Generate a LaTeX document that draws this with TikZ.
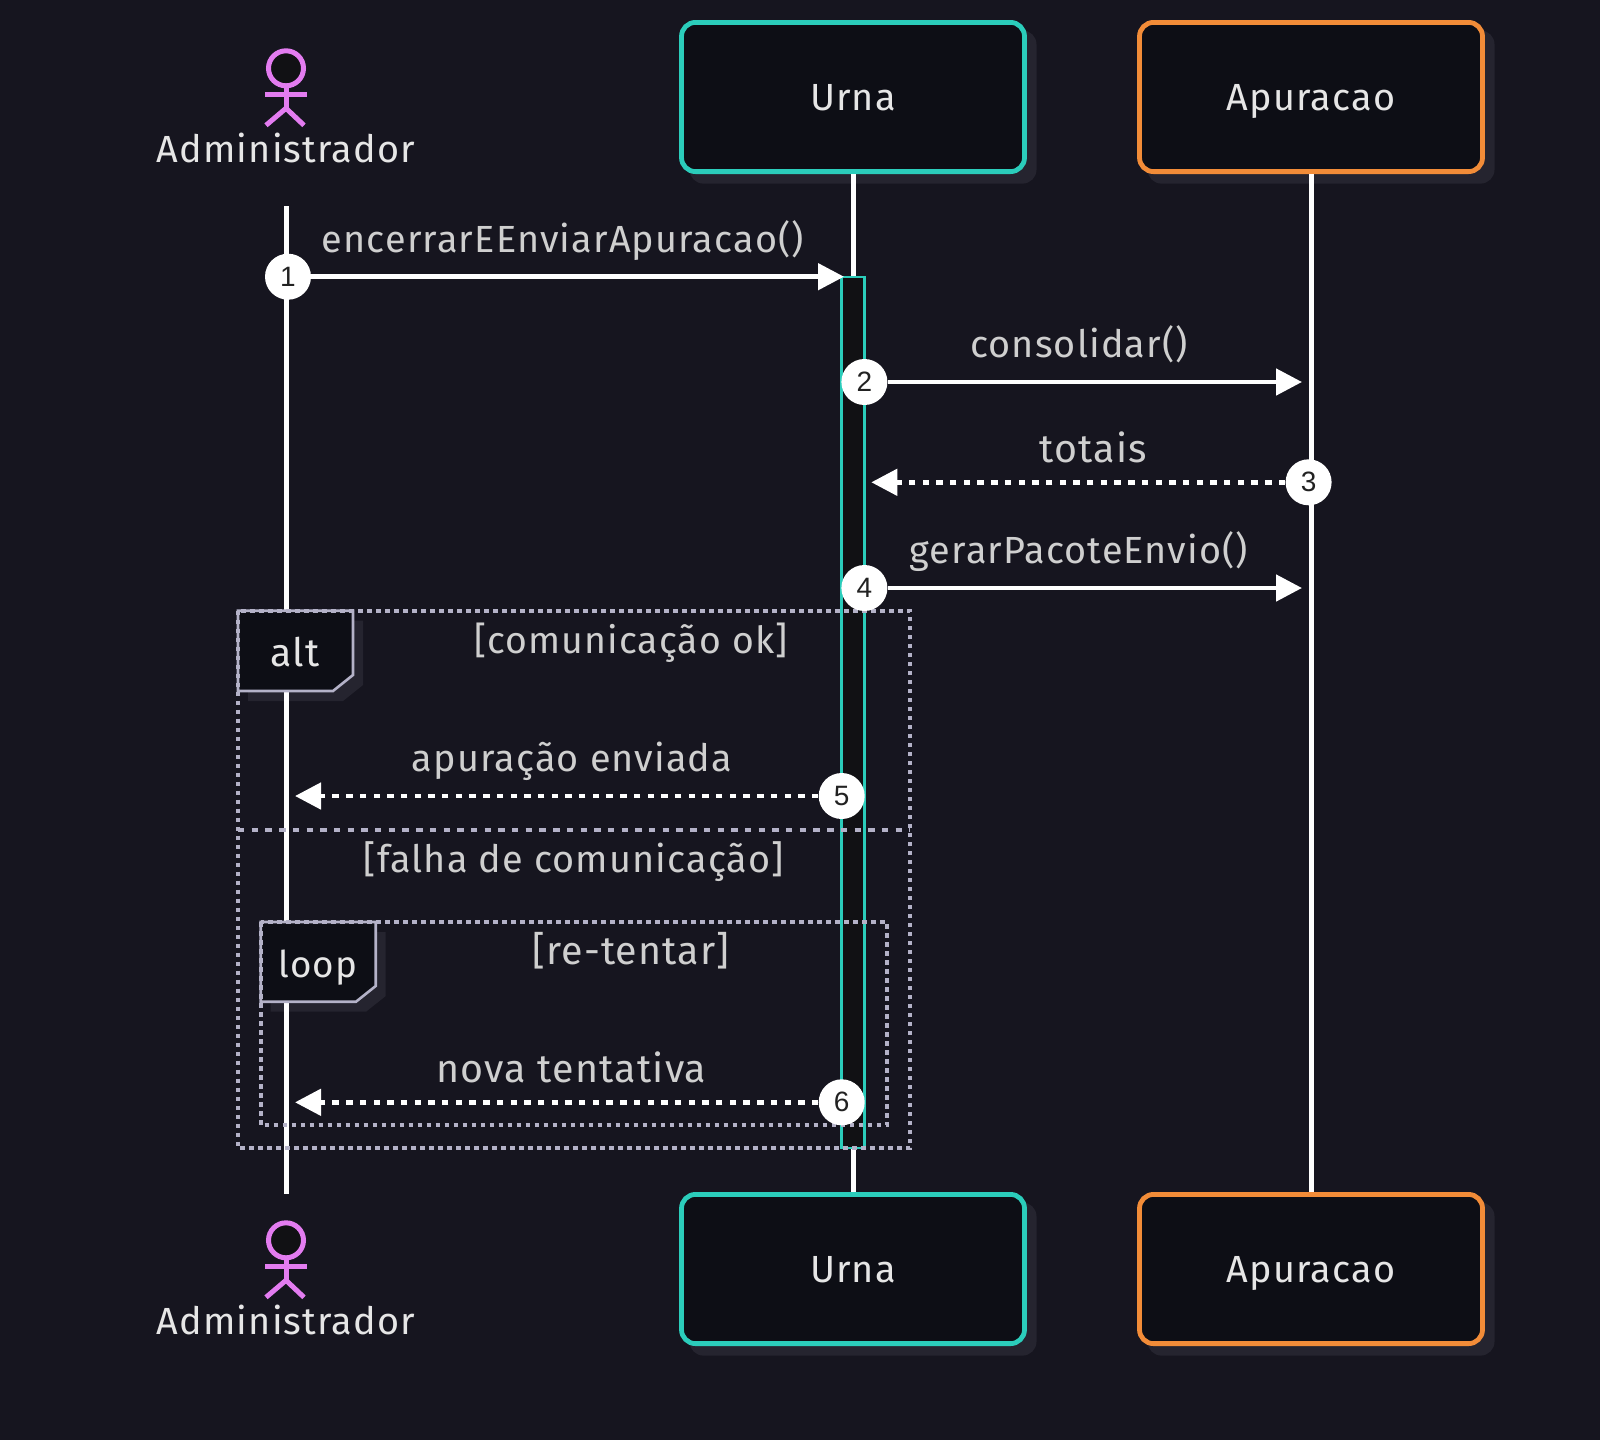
\documentclass[tikz,border=0pt]{standalone}
\usepackage{fontspec}
\setmainfont{Fira Sans}[LetterSpace=3.0]
\newfontfamily\numfont{Liberation Sans}
\usetikzlibrary{arrows.meta}
\definecolor{bgc}{HTML}{16151F}
\definecolor{shadowc}{HTML}{25242F}
\definecolor{boxfill}{HTML}{0D0E15}
\definecolor{tealc}{HTML}{2BCDBB}
\definecolor{orangec}{HTML}{F28C38}
\definecolor{actorc}{HTML}{E37CF0}
\definecolor{framec}{HTML}{B4B2C8}
\definecolor{actfill}{HTML}{111114}
\definecolor{msgc}{HTML}{CFCFCF}
\definecolor{titlec}{HTML}{E6E6E6}
\definecolor{numc}{HTML}{222222}
\tikzset{
  x=0.5pt,y=-0.5pt,
  partbox/.style={rectangle,rounded corners=7pt,line width=2.4pt,fill=boxfill,minimum width=171.5pt,minimum height=74.6pt,inner sep=0pt,text=titlec,text height=13pt,text depth=0pt,font=\fontsize{18.9}{20}\selectfont},
  boxshadow/.style={rectangle,rounded corners=7pt,fill=shadowc,minimum width=173.5pt,minimum height=76.6pt,inner sep=0pt},
  lifeline/.style={draw=white,line width=2.5pt},
  actbar/.style={rectangle,draw=tealc,fill=actfill,line width=1.1pt,minimum width=11.5pt,inner sep=0pt},
  actorline/.style={draw=actorc,line width=2.5pt},
  actorlabel/.style={anchor=base,text=titlec,inner sep=0pt,font=\fontsize{18.9}{20}\selectfont},
  msglabel/.style={anchor=base,text=msgc,inner sep=0pt,font=\fontsize{18.9}{20}\selectfont},
  msgwide/.style={msglabel,font=\fontsize{19.7}{20}\selectfont},
  numdot/.style={circle,fill=white,minimum size=23pt,inner sep=0pt,text=numc,font=\numfont\fontsize{14}{16}\selectfont},
  solidmsg/.style={draw=white,line width=2.4pt,-{Triangle[length=13pt,width=13pt,fill=white]}},
  dashmsg/.style={draw=white,line width=2.4pt,dash pattern=on 3.2pt off 3.65pt,-{Triangle[length=13pt,width=13pt,fill=white]}},
  dotframe/.style={draw=framec,line width=2.1pt,dash pattern=on 2.25pt off 2.25pt},
  divline/.style={draw=framec,line width=2.2pt,dash pattern=on 3.2pt off 3.65pt},
  tabshape/.style={draw=framec,fill=boxfill,line width=1.3pt},
  tabshadow/.style={fill=shadowc},
  tabtext/.style={anchor=base,text=titlec,inner sep=0pt},
}
\begin{document}
\begin{tikzpicture}
\useasboundingbox (0,0) rectangle (1600,1440);
\fill[bgc] (0,0) rectangle (1600,1440);
% shadows
\node[boxshadow] at (863,107) {};
\node[boxshadow] at (1321,107) {};
\node[boxshadow] at (863,1279) {};
\node[boxshadow] at (1321,1279) {};
\fill[tabshadow] (248,620.7) -- (363,620.7) -- (363,685) -- (343,701) -- (248,701) -- cycle;
\fill[tabshadow] (270.7,932) -- (385.7,932) -- (385.7,996) -- (366,1011.7) -- (270.7,1011.7) -- cycle;
% participants
\node[partbox,draw=tealc] (urnaT) at (853,97) {Urna};
\node[partbox,draw=orangec] (apuT) at (1311,97) {Apuracao};
\node[partbox,draw=tealc] (urnaB) at (853,1269) {Urna};
\node[partbox,draw=orangec] (apuB) at (1311,1269) {Apuracao};
% actors
\newcommand{\stick}[2]{%
  \node[circle,actorline,fill=actfill,minimum size=17.5pt,inner sep=0pt] (#2) at (286,#1) {};
  \coordinate (#2hip) at (286,#1+40);
  \draw[actorline] (#2.south) -- (#2hip);
  \draw[actorline] (265,#1+26.5) -- (306.5,#1+26.5);
  \draw[actorline] (266,#1+57) -- (#2hip) -- (304,#1+57);
}
\stick{68.3}{headT}
\stick{1240.3}{headB}
\node[actorlabel] (adminT) at (286,162) {Administrador};
\node[actorlabel] (adminB) at (286,1334) {Administrador};
% lifelines
\coordinate (lifeAT) at (286,206);
\coordinate (lifeAB) at (286,1194);
\draw[lifeline] (lifeAT) -- (lifeAB);
\draw[lifeline] (urnaT.south) -- (urnaB.north);
\draw[lifeline] (apuT.south) -- (apuB.north);
% activation
\node[actbar,minimum height=435.5pt] (act) at (853,712.3) {};
% tabs
\draw[tabshape] (238,610.7) -- (353,610.7) -- (353,675) -- (333,691) -- (238,691) -- cycle;
\node[tabtext,font=\fontsize{19.6}{20}\selectfont] (altT) at (295,666.7) {alt};
\draw[tabshape] (260.7,922) -- (375.7,922) -- (375.7,986) -- (356,1001.7) -- (260.7,1001.7) -- cycle;
\node[tabtext,font=\fontsize{18.4}{20}\selectfont] (loopT) at (318,977.7) {loop};
% frames
\draw[dotframe] (238,610.7) rectangle (910.3,1148.3);
\coordinate (divL) at (238,830);
\coordinate (divR) at (910.3,830);
\draw[divline] (divL) -- (divR);
\draw[dotframe] (260.7,922) rectangle (887.3,1125);
% labels
\node[msglabel] (m1) at (563,252.5) {encerrarEEnviarApuracao()};
\node[msglabel] (m2) at (1079,357.5) {consolidar()};
\node[msgwide] (m3) at (1093.5,462.5) {totais};
\node[msglabel] (m4) at (1079,563.5) {gerarPacoteEnvio()};
\node[msglabel,font=\fontsize{18.7}{20}\selectfont] (g1) at (631,653) {[comunicação ok]};
\node[msglabel] (m5) at (572,771.5) {apuração enviada};
\node[msglabel] (g2) at (574,872) {[falha de comunicação]};
\node[msgwide] (g3) at (631,964) {[re-tentar]};
\node[msgwide] (m6) at (571.5,1082) {nova tentativa};
% step dots
\node[numdot] (n1) at (288,276.7) {1};
\node[numdot] (n2) at (864.4,382) {2};
\node[numdot] (n3) at (1308.6,482.3) {3};
\node[numdot] (n4) at (864.4,588) {4};
\node[numdot] (n5) at (841.7,796) {5};
\node[numdot] (n6) at (841.7,1102.3) {6};
% targets
\coordinate (t1) at (844,276.7);
\coordinate (t2) at (1302,382);
\coordinate (t3) at (871.3,482.3);
\coordinate (t4) at (1302,588);
\coordinate (t5) at (295,796);
\coordinate (t6) at (295,1102.3);
% messages
\draw[solidmsg] (n1) -- (t1);
\draw[solidmsg] (n2) -- (t2);
\draw[dashmsg] (n3) -- (t3);
\draw[solidmsg] (n4) -- (t4);
\draw[dashmsg] (n5) -- (t5);
\draw[dashmsg] (n6) -- (t6);
\end{tikzpicture}
\end{document}
